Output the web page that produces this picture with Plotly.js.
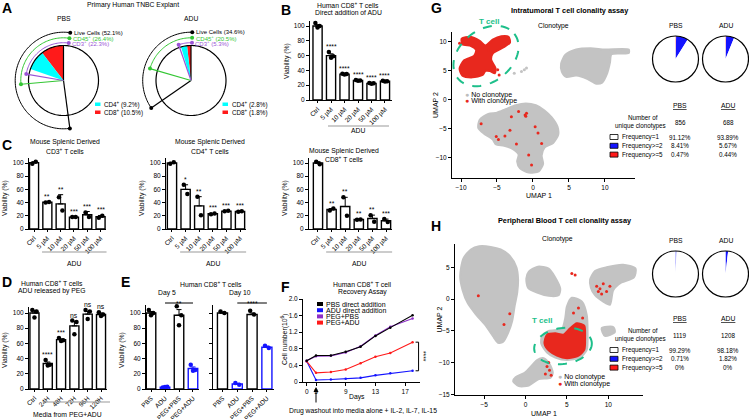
<!DOCTYPE html>
<html>
<head>
<meta charset="utf-8">
<script src="https://cdn.plot.ly/plotly-3.0.1.min.js"></script>
<style>
  html, body { margin: 0; padding: 0; background: #fff; }
  #fig { width: 749px; height: 419px; }
</style>
</head>
<body>
<div id="fig"></div>
<script>
var W = 749, H = 419;
var FONT = 'Liberation Sans, Arial, Helvetica, sans-serif';
var RED = '#ff1a1a', BLUE = '#1414ff', CYAN = '#00ffff', GREEN = '#33c633',
    PURPLE = '#9a55d6', TEAL = '#1dbf8a', GRAY = '#c3c3c3', FRED = '#e8281e';

// A - primary human TNBC explant (% of events)
var aGroups = ['PBS', 'ADU'];
var aLive = [52.1, 34.6];
var aCd45 = [26.4, 20.5];
var aCd3 = [22.3, 5.3];
var aCd4 = [9.2, 2.8];
var aCd8 = [10.5, 1.8];

// B - human CD8+ T cells, direct addition of ADU
var doseCats = ['Ctrl', '5 µM', '10 µM', '20 µM', '50 µM', '100 µM'];
var bMean = [100, 60, 35, 26.5, 22.5, 25.5];
var bErr = [1.8, 2.4, 0.6, 0.6, 0.5, 0.6];
var bPts = [[104, 100, 98], [65, 59, 57], [35.5, 35, 34.5], [27, 26.5, 26], [23, 22.5, 22], [26, 25.5, 25]];
var bSig = ['', '****', '****', '****', '****', '****'];

// C - mouse splenic T cells
var c3Mean = [100.5, 40.5, 38, 18, 21.5, 18.5];
var c3Err = [1.5, 0.7, 14, 0.3, 5, 2];
var c3Pts = [[99, 102], [40, 41], [48, 28], [18, 18], [25, 18], [17, 20]];
var c3Sig = ['', '**', '**', '***', '***', '***'];
var c4Mean = [100, 60, 35, 23, 27, 26.5];
var c4Err = [1, 7, 14, 0.5, 0.4, 0.6];
var c4Pts = [[99, 101], [67, 53], [49, 21], [22.5, 23.5], [27, 27.5], [26, 27]];
var c4Sig = ['', '*', '**', '***', '***', '***'];
var c8Mean = [100, 29.5, 34, 14.5, 16, 12.5];
var c8Err = [2, 1.5, 14, 0.3, 5, 2.5];
var c8Pts = [[102, 98], [28, 31], [48, 20], [14, 14.5], [21, 11], [15, 10.5]];
var c8Sig = ['', '**', '**', '**', '**', '***'];

// D - ADU released by PEG
var dCats = ['Ctrl', '24H', '48H', '72H', '96H', '120H'];
var dMean = [100, 33.5, 65, 83, 98.5, 98];
var dErr = [3.5, 2, 1, 6, 3.5, 2];
var dPts = [[104, 102, 94], [38, 32, 31], [67, 64, 63], [90, 88, 72], [104, 102, 92], [101, 98, 96]];
var dSig = ['', '****', '***', 'ns', 'ns', 'ns'];

// E - day 5 / day 10
var eCats = ['PBS', 'ADU', 'PEG+PBS', 'PEG+ADU'];
var e5Mean = [100, 2.5, 97, 27];
var e5Err = [2, 0.5, 7.5, 2];
var e5Pts = [[104, 100, 97], [2, 3, 2.5], [109, 97, 84], [32, 25, 24]];
var e10Mean = [100, 6.5, 98, 55];
var e10Err = [1, 1, 2, 1.5];
var e10Pts = [[102, 100], [8, 5.5], [103, 98], [57, 54]];
var eSig = ['**', '****'];

// F - recovery assay, cell number (10^6)
var fDays = [0, 5, 7, 9, 11, 13, 15, 18];
var fPbs = [0.51, 0.64, 0.64, 0.73, 0.85, 1.11, 1.31, 1.61];
var fAdu = [0.5, 0.05, 0.06, 0.08, 0.1, 0.16, 0.21, 0.27];
var fPegPbs = [0.51, 0.62, 0.63, 0.71, 0.86, 1.12, 1.33, 1.53];
var fPegAdu = [0.5, 0.22, 0.24, 0.3, 0.45, 0.61, 0.7, 0.96];
var fNames = ['PBS direct addition', 'ADU direct addition', 'PEG+PBS', 'PEG+ADU'];

// G / H - clonality
var cloneLabels = ['Frequency>=5', 'Frequency>=2', 'Frequency=1'];
var gPbsFreq = [0.47, 8.41, 91.12];
var gAduFreq = [0.44, 5.67, 93.89];
var hPbsFreq = [0, 0.71, 99.29];
var hAduFreq = [0, 1.82, 98.18];
var gUnique = [856, 688];
var hUnique = [1119, 1208];

// UMAP outlines (UMAP 1, UMAP 2)
var gGrayTop = [[3.9,6.2],[4.5,7.8],[6.0,8.7],[8.0,8.9],[10.0,8.7],[13.3,8.7],[13.3,8.1],[10.9,7.9],[10.7,6.5],[10.3,4.6],[9.6,3.0],[8.8,2.8],[7.6,3.6],[6.0,4.2],[4.6,4.0],[4.0,4.9]];
var gGrayLow = [[-6.2,-2.4],[-5.0,-2.2],[-3.8,-1.6],[-2.4,-0.9],[-1.0,-0.6],[0.4,-0.9],[1.6,-1.8],[2.6,-3.0],[3.4,-4.6],[3.5,-6.0],[2.8,-7.4],[1.6,-8.2],[1.2,-9.6],[1.4,-11.0],[0.8,-12.3],[-0.6,-12.5],[-1.8,-11.8],[-2.2,-10.6],[-2.0,-9.4],[-2.9,-8.4],[-4.0,-7.9],[-5.2,-7.6],[-5.6,-6.8],[-6.8,-5.8],[-7.6,-4.8],[-7.4,-3.4]];
var gTcell = [[-9.9,10.6],[-8.7,10.9],[-7.4,10.2],[-6.6,9.4],[-5.6,10.4],[-4.4,11.0],[-3.4,10.9],[-3.2,9.9],[-4.2,9.0],[-5.6,8.0],[-5.8,6.9],[-5.2,5.5],[-5.3,4.6],[-6.0,5.0],[-6.6,5.0],[-7.0,4.3],[-8.4,3.9],[-9.8,4.2],[-10.2,5.4],[-9.6,6.8],[-8.2,7.6],[-7.9,8.6],[-8.6,9.3],[-9.8,9.6]];
var gRedPts = [[-7.2,-4.1],[-5.1,-6.3],[-4.8,-6.8],[-3.9,-6.2],[-3.2,-5.2],[-2.3,-7.6],[-1.1,-2.6],[-1.0,-2.8],[-0.9,-2.3],[0.3,-4.6],[0.7,-5.7],[-0.6,-9.5],[-0.2,-11.2],[-3.0,-2.9],[-2.0,-2.0],[1.2,-7.5],[-10.2,9.8],[-4.7,4.3],[-4.9,5.2],[-6.2,8.6]];
var gGrayPts = [[-1.6,4.9],[-0.9,5.5],[-1.2,5.2],[-2.6,4.6]];

var hGrayLeft = [[-7.5,6.4],[-6.6,7.8],[-5.6,8.3],[-4.2,8.2],[-3.0,7.8],[-1.9,6.8],[-1.1,5.0],[-0.9,3.2],[-1.0,1.0],[-1.3,-1.0],[-1.6,-3.4],[-2.1,-5.3],[-2.7,-6.7],[-3.3,-6.9],[-3.8,-6.1],[-4.8,-4.2],[-6.0,-2.4],[-7.0,-0.6],[-7.6,1.4],[-7.9,3.6]];
var hGrayMid = [[0.1,3.2],[0.4,4.3],[1.5,5.1],[2.8,4.8],[3.5,3.6],[4.2,1.6],[4.0,0.6],[2.8,0.5],[1.4,1.0],[0.3,1.8]];
var hGrayRight = [[7.8,3.0],[8.4,4.4],[9.8,5.0],[11.8,5.4],[13.3,4.8],[13.1,3.4],[11.6,2.6],[10.6,1.4],[10.2,-0.9],[9.4,-0.4],[8.4,0.6],[7.9,1.8]];
var hGrayBand = [[2.0,-5.8],[2.8,-5.0],[4.4,-4.7],[4.8,-3.0],[5.0,-1.2],[5.6,0.2],[6.8,-0.4],[7.4,-2.5],[7.5,-5.0],[7.4,-8.0],[6.6,-9.2],[5.0,-9.6],[3.6,-9.2],[2.6,-8.4],[1.9,-7.0]];
var hGraySmall = [[9.2,-4.6],[10.6,-4.4],[10.8,-5.2],[9.6,-5.8]];
var hGrayBottom = [[-1.5,-12.9],[-1.2,-12.3],[-0.1,-11.6],[0.8,-10.4],[1.4,-9.6],[2.2,-9.3],[2.9,-10.2],[3.3,-11.6],[3.0,-12.4],[1.6,-12.6],[0.4,-13.6],[-0.8,-13.7]];
var hTcell = [[2.6,-5.6],[3.6,-5.4],[4.6,-5.6],[5.4,-4.6],[6.2,-3.8],[7.1,-4.2],[7.2,-6.0],[7.1,-8.0],[6.3,-9.0],[5.0,-9.3],[3.8,-8.9],[2.9,-8.2],[2.3,-7.0]];
var hRedPts = [[8.6,2.0],[9.0,1.6],[9.4,2.4],[9.8,1.2],[8.8,1.2],[10.2,2.0],[9.2,0.8],[2.6,-10.6],[2.9,-11.2],[3.1,-12.0],[2.4,-11.8],[2.8,-10.0],[5.6,4.0],[6.0,3.8],[-5.7,0.5],[-1.9,-2.3],[-2.6,-4.0],[5.8,-2.2],[6.4,-1.4],[6.9,-3.0]];

var traces = [], annotations = [], shapes = [];
var layout = {
  width: W, height: H, margin: {l: 0, r: 0, t: 0, b: 0},
  paper_bgcolor: '#fff', plot_bgcolor: 'rgba(0,0,0,0)',
  showlegend: false, barmode: 'overlay',
  font: {family: FONT, size: 7, color: '#000'}
};

function txt(x, y, s, o) {
  o = o || {};
  return {xref: 'paper', yref: 'paper', x: x / W, y: 1 - y / H, text: s, showarrow: false,
    xanchor: o.xanchor || 'center', yanchor: o.yanchor || 'middle', textangle: o.angle || 0,
    borderpad: 0, font: {family: FONT, size: o.size || 6.8, color: o.color || '#000'}};
}
function seg(x0, y0, x1, y1, c, w) {
  return {type: 'line', xref: 'paper', yref: 'paper', x0: x0 / W, y0: 1 - y0 / H, x1: x1 / W, y1: 1 - y1 / H,
    line: {color: c, width: w || 1}};
}
function box(x0, y0, x1, y1, fill, lc) {
  return {type: 'rect', xref: 'paper', yref: 'paper', x0: x0 / W, y0: 1 - y0 / H, x1: x1 / W, y1: 1 - y1 / H,
    fillcolor: fill, line: {color: lc || fill, width: lc ? 0.8 : 0}};
}
function ellipse(cx, cy, a, b, phiDeg) {
  var phi = phiDeg * Math.PI / 180, d = '';
  for (var i = 0; i <= 72; i++) {
    var t = i / 72 * 2 * Math.PI;
    var x = cx + a * Math.cos(t) * Math.cos(phi) - b * Math.sin(t) * Math.sin(phi);
    var y = cy + a * Math.cos(t) * Math.sin(phi) + b * Math.sin(t) * Math.cos(phi);
    d += (i ? ' L ' : 'M ') + (x / W).toFixed(5) + ',' + (1 - y / H).toFixed(5);
  }
  return {type: 'path', xref: 'paper', yref: 'paper', path: d + ' Z', line: {color: TEAL, width: 2, dash: 'dash'}};
}

// panel geometry in pixels
function P(o) { o.t = o.b - (o.yr[1] - o.yr[0]) * o.ppu; return o; }
var pB  = P({n: '',  l: 310, r: 392, b: 100, ppu: 0.74, xr: [-0.56, 5.52], yr: [0, 107]});
var pC1 = P({n: '2', l: 29,  r: 106, b: 229, ppu: 0.66, xr: [-0.38, 5.41], yr: [0, 108]});
var pC2 = P({n: '3', l: 166, r: 246, b: 229, ppu: 0.66, xr: [-0.44, 5.44], yr: [0, 108]});
var pC3 = P({n: '4', l: 309, r: 392, b: 229, ppu: 0.66, xr: [-0.66, 5.44], yr: [0, 108]});
var pD  = P({n: '5', l: 29,  r: 107, b: 389, ppu: 0.76, xr: [-0.41, 5.45], yr: [0, 108]});
var pE1 = P({n: '6', l: 146, r: 199, b: 389, ppu: 0.76, xr: [-0.36, 3.43], yr: [0, 110]});
var pE2 = P({n: '7', l: 213, r: 274, b: 389, ppu: 0.76, xr: [-0.64, 3.48], yr: [0, 110]});
var pF  = {n: '8',  l: 303, r: 420, t: 299, b: 382, xr: [3.25, 19.0], yr: [0, 2.0]};
var pG  = {n: '9',  l: 452, r: 635, t: 32,  b: 178, xr: [-11.25, 14.17], yr: [-13.45, 11.72]};
var pH  = {n: '10', l: 455, r: 643, t: 244, b: 395, xr: [-8.52, 14.2], yr: [-15.1, 8.66]};

function xPx(p, v) { return p.l + (v - p.xr[0]) / (p.xr[1] - p.xr[0]) * (p.r - p.l); }
function yPx(p, v) { return p.b - (v - p.yr[0]) / (p.yr[1] - p.yr[0]) * (p.b - p.t); }

var baseAxis = {showline: true, linecolor: '#000', linewidth: 1, ticks: 'outside', ticklen: 3,
  tickwidth: 1, tickcolor: '#000', showgrid: false, zeroline: false, fixedrange: true,
  tickfont: {family: FONT, size: 6.5, color: '#000'}};
function addAxes(p, xo, yo) {
  layout['xaxis' + p.n] = Object.assign({}, baseAxis, {domain: [p.l / W, p.r / W], range: p.xr, anchor: 'y' + p.n}, xo);
  layout['yaxis' + p.n] = Object.assign({}, baseAxis, {domain: [1 - p.b / H, 1 - p.t / H], range: p.yr, anchor: 'x' + p.n}, yo);
}

function jit(n, k) {
  if (n === 2) return [-0.13, 0.13][k];
  if (n === 3) return [-0.16, 0.16, 0][k];
  return 0;
}

function barPanel(p, cats, mean, err, pts, sig, colors, showY) {
  var idx = cats.map(function (c, i) { return i; });
  addAxes(p, {tickvals: idx, ticktext: cats, tickangle: -45, ticklen: 2},
    {tickvals: [0, 20, 40, 60, 80, 100], showticklabels: showY !== false});
  mean.forEach(function (m, i) {
    var c = colors ? colors[i] : '#000';
    traces.push({type: 'bar', x: [i], y: [m], width: 0.68, xaxis: 'x' + p.n, yaxis: 'y' + p.n,
      marker: {color: '#fff', line: {color: c, width: 1.4}},
      error_y: {type: 'data', array: [err[i]], arrayminus: [0], symmetric: false, color: c, thickness: 1, width: 2.5},
      hoverinfo: 'skip'});
  });
  var px = [], py = [], pc = [];
  pts.forEach(function (arr, i) {
    arr.forEach(function (v, k) {
      px.push(i + jit(arr.length, k)); py.push(v); pc.push(colors ? colors[i] : '#000');
    });
  });
  traces.push({type: 'scatter', mode: 'markers', x: px, y: py, xaxis: 'x' + p.n, yaxis: 'y' + p.n,
    cliponaxis: false, marker: {size: 4.5, color: pc}, hoverinfo: 'skip'});
  if (sig) sig.forEach(function (s, i) {
    if (!s) return;
    var top = Math.max(mean[i] + err[i], Math.max.apply(null, pts[i]));
    annotations.push(txt(xPx(p, i), yPx(p, top) - 1, s, {yanchor: 'bottom'}));
  });
}

// ---------- A ----------
var aCenters = [[63.5, 80.5], [191, 80.5]], aStart = [-8, -1.5], aUnit = 35, aRmax = 1.45;
var aRad = [1.38, 1.22, 1.08];
function arc(a0, a1) {
  var t = [], n = Math.max(2, Math.ceil(Math.abs(a1 - a0) / 2));
  for (var i = 0; i <= n; i++) t.push(a0 + (a1 - a0) * i / n);
  return t;
}
function fill(arr, v) { return arr.map(function () { return v; }); }
aGroups.forEach(function (g, k) {
  var sub = k ? 'polar2' : 'polar';
  var cx = aCenters[k][0], cy = aCenters[k][1], half = aRmax * aUnit;
  layout[sub] = {domain: {x: [(cx - half) / W, (cx + half) / W], y: [1 - (cy + half) / H, 1 - (cy - half) / H]},
    bgcolor: 'rgba(0,0,0,0)', radialaxis: {visible: false, range: [0, aRmax]},
    angularaxis: {visible: false, rotation: 90, direction: 'counterclockwise'}};
  var d8 = aCd8[k] * 3.6, d4 = aCd4[k] * 3.6;
  traces.push({type: 'barpolar', subplot: sub, r: [1, 1], theta: [d8 / 2, d8 + d4 / 2], width: [d8, d4],
    marker: {color: [RED, CYAN], line: {width: 0}}, hoverinfo: 'skip'});
  var ring = arc(0, 360);
  traces.push({type: 'scatterpolar', subplot: sub, mode: 'lines', r: fill(ring, 1), theta: ring,
    line: {color: '#000', width: 1.2}, hoverinfo: 'skip'});
  traces.push({type: 'scatterpolar', subplot: sub, mode: 'lines', r: [0, 1], theta: [0, 0],
    line: {color: '#000', width: 1.2}, hoverinfo: 'skip'});
  var marks = [[aLive[k], '#000', 'Live Cells'], [aCd45[k], GREEN, 'CD45<sup>+</sup>'], [aCd3[k], PURPLE, 'CD3<sup>+</sup>']];
  marks.forEach(function (m, j) {
    var ang = m[0] * 3.6, R = aRad[j];
    traces.push({type: 'scatterpolar', subplot: sub, mode: 'lines', r: [0, R], theta: [ang, ang],
      line: {color: m[1], width: 1.2}, hoverinfo: 'skip'});
    var th = arc(aStart[k], ang);
    traces.push({type: 'scatterpolar', subplot: sub, mode: 'lines', r: fill(th, R), theta: th,
      line: {color: m[1], width: 1}, hoverinfo: 'skip'});
    traces.push({type: 'scatterpolar', subplot: sub, mode: 'markers', r: [R, R], theta: [aStart[k], ang],
      marker: {size: 4, color: m[1]}, hoverinfo: 'skip'});
    var s = -aStart[k] * Math.PI / 180;
    var lx = cx + R * aUnit * Math.sin(s), ly = cy - R * aUnit * Math.cos(s);
    annotations.push(txt(lx + 2.5, ly, m[2] + ' (' + m[0] + '%)', {xanchor: 'left', color: m[1], size: 6}));
  });
  var lgx = cx + 31.5;
  shapes.push(box(lgx, 102.5, lgx + 5.5, 106, CYAN));
  shapes.push(box(lgx, 110.5, lgx + 5.5, 114, RED));
  annotations.push(txt(lgx + 8, 104.3, 'CD4<sup>+</sup> (' + aCd4[k] + '%)', {xanchor: 'left', size: 6.3}));
  annotations.push(txt(lgx + 8, 112.3, 'CD8<sup>+</sup> (' + aCd8[k] + '%)', {xanchor: 'left', size: 6.3}));
  annotations.push(txt(cx, 18, g));
});
annotations.push(txt(133, 5.5, 'Primary Human TNBC Explant'));

// ---------- B, C, D, E ----------
barPanel(pB, doseCats, bMean, bErr, bPts, bSig);
barPanel(pC1, doseCats, c3Mean, c3Err, c3Pts, c3Sig);
barPanel(pC2, doseCats, c4Mean, c4Err, c4Pts, c4Sig);
barPanel(pC3, doseCats, c8Mean, c8Err, c8Pts, c8Sig);
barPanel(pD, dCats, dMean, dErr, dPts, dSig);
var eCol = ['#000', BLUE, '#000', BLUE];
barPanel(pE1, eCats, e5Mean, e5Err, e5Pts, null, eCol);
barPanel(pE2, eCats, e10Mean, e10Err, e10Pts, null, eCol, false);

annotations.push(txt(348, 5, 'Human CD8<sup>+</sup> T cells'));
annotations.push(txt(348, 13, 'Direct addition of ADU'));
annotations.push(txt(287, 61, 'Viability (%)', {angle: -90}));
shapes.push(seg(328, 126, 389, 126, '#999', 1));
annotations.push(txt(358, 131, 'ADU'));

var cTitles = [[pC1, 65, 142, 'CD3'], [pC2, 210, 142, 'CD4'], [pC3, 344, 151, 'CD8']];
cTitles.forEach(function (c) {
  annotations.push(txt(c[1], c[2], 'Mouse Splenic Derived'));
  annotations.push(txt(c[1], c[2] + 8.5, c[3] + '<sup>+</sup> T cells'));
  annotations.push(txt(c[0].l - 24, 198, 'Viability (%)', {angle: -90}));
  var x0 = xPx(c[0], 0.6), x1 = xPx(c[0], 5.45);
  shapes.push(seg(x0, 252, x1, 252, '#999', 1));
  annotations.push(txt((x0 + x1) / 2, 263, 'ADU'));
});

annotations.push(txt(52, 283, 'Human CD8<sup>+</sup> T cells'));
annotations.push(txt(52, 291, 'ADU released by PEG'));
annotations.push(txt(5, 350, 'Viability (%)', {angle: -90}));
shapes.push(seg(43, 402, 110, 402, '#999', 1));
annotations.push(txt(67, 414, 'Media from PEG+ADU'));

annotations.push(txt(211, 284, 'Human CD8<sup>+</sup> T cells'));
annotations.push(txt(167, 293, 'Day 5'));
annotations.push(txt(240, 293, 'Day 10'));
annotations.push(txt(122, 350, 'Viability (%)', {angle: -90}));
[[pE1, eSig[0]], [pE2, eSig[1]]].forEach(function (e) {
  var x0 = xPx(e[0], 1), x1 = xPx(e[0], 3);
  shapes.push(seg(x0, 303, x1, 303, '#000', 1));
  annotations.push(txt((x0 + x1) / 2, 303.5, e[1]));
});

// ---------- F ----------
function pos(d) { return d >= 5 ? d : 3.75 + d * 0.25; }
addAxes(pF, {tickvals: [pos(0), 5, 9, 13, 17], ticktext: ['0', '5', '9', '13', '17']},
  {tickvals: [0, 0.4, 0.8, 1.2, 1.6, 2.0], ticktext: ['0', '0.4', '0.8', '1.2', '1.6', '2.0']});
var fSeries = [fPbs, fAdu, fPegPbs, fPegAdu];
var fCols = ['#000', BLUE, '#8e2fc8', RED];
[1, 3, 2, 0].forEach(function (i) {
  traces.push({type: 'scatter', mode: 'lines+markers', x: fDays.map(pos), y: fSeries[i],
    xaxis: 'x8', yaxis: 'y8', line: {color: fCols[i], width: 1.1}, marker: {size: 2.5, color: fCols[i]},
    hoverinfo: 'skip'});
});
fNames.forEach(function (nm, i) {
  var y = 304 + i * 6.2;
  shapes.push(box(317, y - 2, 323, y + 2, fCols[i]));
  annotations.push(txt(325, y, nm, {xanchor: 'left', size: 7}));
});
annotations.push(txt(362, 284, 'Human CD8<sup>+</sup> T cell'));
annotations.push(txt(362, 291.5, 'Recovery Assay'));
annotations.push(txt(284, 340, 'Cell number(10<sup>6</sup>)', {angle: -90}));
annotations.push(txt(357, 397, 'Days'));
var last = fDays.length - 1, bx = xPx(pF, pos(fDays[last])) + 6;
var yTop = yPx(pF, fPegAdu[last]), yBot = yPx(pF, fAdu[last]);
shapes.push({type: 'path', xref: 'paper', yref: 'paper', line: {color: '#000', width: 1},
  path: 'M ' + (bx - 3) / W + ',' + (1 - yTop / H) + ' L ' + bx / W + ',' + (1 - yTop / H) +
        ' L ' + bx / W + ',' + (1 - yBot / H) + ' L ' + (bx - 3) / W + ',' + (1 - yBot / H)});
annotations.push(txt(bx + 5, (yTop + yBot) / 2, '****', {angle: 90}));
annotations.push({xref: 'paper', yref: 'paper', x: xPx(pF, 5) / W, y: 1 - 387 / H, text: '', showarrow: true,
  ax: 0, ay: 17, arrowhead: 2, arrowsize: 1, arrowwidth: 1, arrowcolor: '#000'});
annotations.push(txt(363, 411, 'Drug washout into media alone + IL-2, IL-7, IL-15'));

// ---------- G, H UMAP ----------
function poly(p, pts, color) {
  var xs = pts.map(function (q) { return q[0]; }), ys = pts.map(function (q) { return q[1]; });
  xs.push(xs[0]); ys.push(ys[0]);
  traces.push({type: 'scatter', mode: 'lines', x: xs, y: ys, xaxis: 'x' + p.n, yaxis: 'y' + p.n,
    fill: 'toself', fillcolor: color, line: {color: color, width: 2, shape: 'spline', smoothing: 0.7},
    hoverinfo: 'skip'});
}
function dots(p, pts, color, size) {
  traces.push({type: 'scatter', mode: 'markers', x: pts.map(function (q) { return q[0]; }),
    y: pts.map(function (q) { return q[1]; }), xaxis: 'x' + p.n, yaxis: 'y' + p.n,
    marker: {size: size, color: color}, hoverinfo: 'skip'});
}
addAxes(pG, {tickvals: [-10, -5, 0, 5, 10]}, {tickvals: [-10, -5, 0, 5, 10]});
addAxes(pH, {tickvals: [-5, 0, 5, 10]}, {tickvals: [-15, -10, -5, 0, 5]});
poly(pG, gGrayTop, GRAY); poly(pG, gGrayLow, GRAY); poly(pG, gTcell, FRED);
dots(pG, gGrayPts, GRAY, 3); dots(pG, gRedPts, FRED, 3);
poly(pH, hGrayLeft, GRAY); poly(pH, hGrayMid, GRAY); poly(pH, hGrayRight, GRAY);
poly(pH, hGrayBand, GRAY); poly(pH, hGraySmall, GRAY); poly(pH, hGrayBottom, GRAY);
poly(pH, hTcell, FRED); dots(pH, hRedPts, FRED, 3);

shapes.push(ellipse(486, 56, 36, 26, -38));
shapes.push(ellipse(563, 346, 29, 18, -8));
annotations.push(txt(489, 21, '<b>T cell</b>', {color: TEAL, size: 8}));
annotations.push(txt(542, 320, '<b>T cell</b>', {color: TEAL, size: 8}));

function umapText(p, title, tx, ty, clx, cly, lgx, lgy, u1y, u2x) {
  annotations.push(txt(tx, ty, '<b>' + title + '</b>', {size: 7.3}));
  annotations.push(txt(clx, cly, 'Clonotype'));
  annotations.push(txt(lgx, lgy, '<span style="color:#bdbdbd">●</span> No clonotype', {xanchor: 'left', size: 7}));
  annotations.push(txt(lgx, lgy + 6.5, '<span style="color:' + FRED + '">●</span> With clonotype', {xanchor: 'left', size: 7}));
  annotations.push(txt((p.l + p.r) / 2 - 5, u1y, 'UMAP 1', {size: 7}));
  annotations.push(txt(u2x, (p.t + p.b) / 2, 'UMAP 2', {angle: -90, size: 7}));
}
umapText(pG, 'Intratumoral T cell clonality assay', 570, 10, 553, 26, 464, 95, 195, 435);
umapText(pH, 'Peripheral Blood T cell clonality assay', 565, 220, 557, 239, 557, 377, 413, 439);

// clonality pies and tables
var pieCols = [RED, BLUE, '#ffffff'];
function clonePie(vals, cx, cy, label) {
  var dom = {x: [(cx - 23) / W, (cx + 23) / W], y: [1 - (cy + 23) / H, 1 - (cy - 23) / H]};
  traces.push({type: 'pie', values: vals, labels: cloneLabels, sort: false, direction: 'clockwise', rotation: 0,
    textinfo: 'none', hoverinfo: 'skip', marker: {colors: pieCols, line: {width: 0}}, domain: dom});
  traces.push({type: 'pie', values: [1], labels: ['all'], textinfo: 'none', hoverinfo: 'skip',
    marker: {colors: ['rgba(0,0,0,0)'], line: {color: '#000', width: 1.2}}, domain: dom});
  annotations.push(txt(cx, cy - 34, label));
}
clonePie(gPbsFreq, 675.5, 59, 'PBS'); clonePie(gAduFreq, 725.5, 59, 'ADU');
clonePie(hPbsFreq, 675.5, 274, 'PBS'); clonePie(hAduFreq, 725.5, 274, 'ADU');

function cloneTable(y0, pbs, adu, uniq) {
  var fs = 6.3;
  annotations.push(txt(680, y0, '<u>PBS</u>', {size: 6.8}));
  annotations.push(txt(728, y0, '<u>ADU</u>', {size: 6.8}));
  annotations.push(txt(643, y0 + 12.5, 'Number of', {size: fs}));
  annotations.push(txt(640, y0 + 20.5, 'unique clonotypes', {size: fs}));
  annotations.push(txt(680, y0 + 17, String(uniq[0]), {size: fs}));
  annotations.push(txt(728, y0 + 17, String(uniq[1]), {size: fs}));
  [2, 1, 0].forEach(function (fi, r) {
    var y = y0 + 32 + r * 8.8;
    shapes.push(box(610, y - 2.5, 618, y + 2.5, pieCols[fi], '#000'));
    annotations.push(txt(621, y, cloneLabels[fi], {xanchor: 'left', size: fs}));
    annotations.push(txt(680, y, pbs[fi] + '%', {size: fs}));
    annotations.push(txt(728, y, adu[fi] + '%', {size: fs}));
  });
}
cloneTable(105, gPbsFreq, gAduFreq, gUnique);
cloneTable(318, hPbsFreq, hAduFreq, hUnique);

// panel letters
[['A', 1, 8], ['B', 280, 10], ['C', 1, 145], ['D', 1, 282], ['E', 120, 282], ['F', 280, 287], ['G', 430, 8], ['H', 430, 226]]
  .forEach(function (l) { annotations.push(txt(l[1], l[2], '<b>' + l[0] + '</b>', {xanchor: 'left', size: 14})); });

layout.annotations = annotations;
layout.shapes = shapes;
Plotly.newPlot('fig', traces, layout, {staticPlot: true, displayModeBar: false});
</script>
</body>
</html>
